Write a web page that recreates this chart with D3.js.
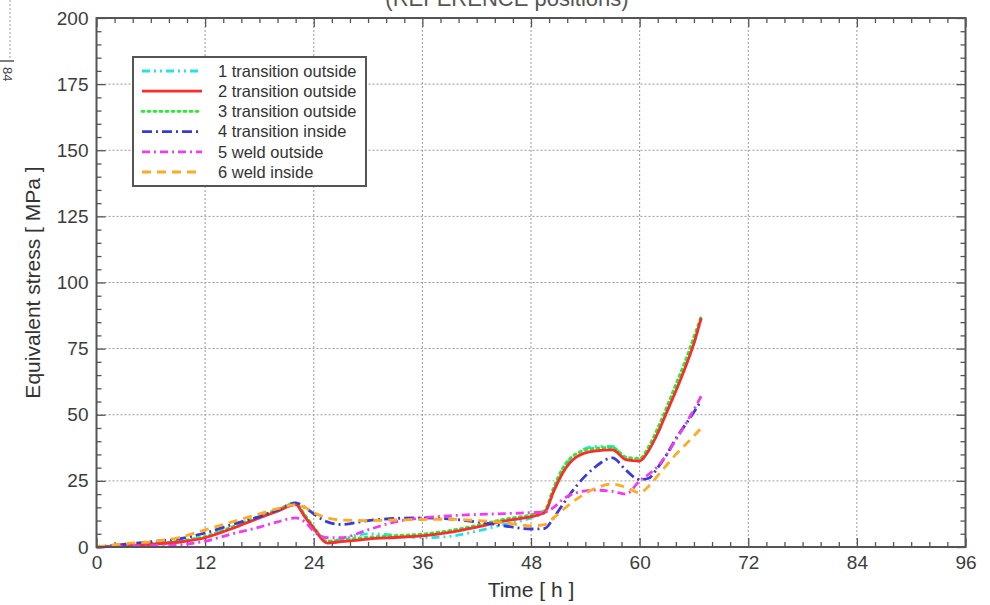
<!DOCTYPE html>
<html><head><meta charset="utf-8">
<script src="https://cdn.jsdelivr.net/npm/d3@7"></script>
<style>
html,body{margin:0;padding:0;background:#fff;}
svg text{font-family:"Liberation Sans",Arial,Helvetica,sans-serif;}
</style></head>
<body>
<svg id="chart" width="990" height="605"></svg>
<script>
// ---------- data ----------
const time = [0, 3, 6, 9, 12, 15, 18, 20, 22, 23, 24, 25.5, 27, 30, 33, 36, 39, 42, 45, 48, 49.5, 50.5, 51.5, 53, 55, 57, 58.5, 60, 61, 62, 63, 64, 65, 66, 66.8];
const s1 = [0, 0.5, 1.2, 2, 4, 7.5, 11.5, 14, 16, 12, 7.5, 2, 3, 5, 4.5, 3.5, 4, 6, 8.5, 11, 13, 21, 29, 35, 38, 38, 33, 32.5, 36.5, 43, 51, 59, 68, 77, 86.5];
const s2 = [0, 0.4, 1, 1.8, 3.5, 7, 11, 13.5, 16, 11.5, 7, 1.5, 2, 3, 3.6, 4.2, 5.5, 7.5, 9.8, 11.5, 13, 21, 28, 34, 36.3, 36.7, 33, 32.5, 36.5, 43, 51, 59, 67.5, 77, 86.5];
const s3 = [0, 0.6, 1.3, 2.2, 4, 7.6, 11.6, 14.1, 16.6, 12.2, 7.6, 2.2, 2.7, 3.7, 4.3, 4.9, 6.2, 8.2, 10.5, 12.2, 13.8, 22.5, 29.8, 35.3, 37.3, 37.6, 34, 33.5, 38, 45, 53, 61.5, 70, 79.5, 87.2];
const s4 = [0, 1, 2, 3, 5.3, 8.5, 11.5, 14, 16.7, 15, 12.5, 9.5, 8.5, 10, 10.8, 11, 10.6, 9.5, 8, 6.8, 7, 11, 16, 23, 30, 33.7, 29, 25.5, 26, 30, 35, 41, 46, 51, 55.5];
const s5 = [0, 0.3, 0.5, 0.8, 2.2, 5, 7.5, 9.5, 11, 9.5, 6, 3.5, 3.5, 6.5, 9.5, 11, 11.8, 12.3, 12.6, 13, 13.2, 15, 18, 20.5, 21.5, 21, 20, 25, 27.5, 30.5, 35, 40.5, 46, 52, 57];
const s6 = [0, 1.2, 2, 3.5, 6.5, 9.5, 12.5, 14.5, 16, 15, 13, 11, 10.2, 10, 10.2, 10.4, 10.5, 10, 9.2, 8, 8.5, 11, 14, 18, 22, 23.8, 22.5, 20.5, 23, 27, 31, 35, 38.5, 42, 45];
const seriesNames = ["1 transition outside", "2 transition outside", "3 transition outside", "4 transition inside", "5 weld outside", "6 weld inside"];
const seriesValues = [s1, s2, s3, s4, s5, s6];
const xTicks = [0, 12, 24, 36, 48, 60, 72, 84, 96];
const yTicks = [0, 25, 50, 75, 100, 125, 150, 175, 200];
const xLabel = "Time [ h ]";
const yLabel = "Equivalent stress [ MPa ]";
const titleText = "(REFERENCE positions)";

// ---------- styles ----------
const colors = ["#22e4e4", "#ff2a2a", "#33e633", "#3a3ad8", "#f03cf0", "#ffaa22"];
const dashes = ["8,4,2,4,2,4", null, "2,4", "10,4,2,4", "8,4,2,4", "9,6"];
const widths = [2.8, 2.8, 2.8, 2.8, 2.8, 2.8];
const drawOrder = [0, 2, 1, 3, 4, 5];

const svg = d3.select("#chart");
const L = 96.5, R = 965.5, T = 18, B = 547;
const x = d3.scaleLinear().domain([0, 96]).range([L, R]);
const y = d3.scaleLinear().domain([0, 200]).range([B, T]);

// top-left fragment of neighbouring figure
svg.append("line").attr("x1", 10).attr("x2", 10).attr("y1", 0).attr("y2", 60)
  .attr("stroke", "#999").attr("stroke-dasharray", "2,2");
svg.append("line").attr("x1", 0).attr("x2", 14).attr("y1", 61).attr("y2", 61)
  .attr("stroke", "#555").attr("stroke-width", 1.5);
svg.append("text").attr("transform", "translate(3,67) rotate(90)")
  .attr("font-size", 13).attr("fill", "#444").text("84");

// title (partly cut off at top, as in the source)
svg.append("text").attr("x", 507).attr("y", 6).attr("text-anchor", "middle")
  .attr("font-size", 22).attr("fill", "#555").text(titleText);

// grid
const grid = svg.append("g");
xTicks.slice(1, -1).forEach(t => grid.append("line").attr("x1", x(t)).attr("x2", x(t)).attr("y1", T).attr("y2", B)
  .attr("stroke", "#9a9a9a").attr("stroke-width", 1).attr("stroke-dasharray", "2,2"));
yTicks.slice(1, -1).forEach(t => grid.append("line").attr("x1", L).attr("x2", R).attr("y1", y(t)).attr("y2", y(t))
  .attr("stroke", "#9a9a9a").attr("stroke-width", 1).attr("stroke-dasharray", "2,2"));

// axes with inward ticks
const minorX = d3.range(0, 97, 2).filter(v => v % 12 !== 0);
const minorY = d3.range(0, 201, 5).filter(v => v % 25 !== 0);
function mkAxis(axisFn, scale, ticks, len, fmt) {
  return axisFn(scale).tickValues(ticks).tickSize(len).tickSizeOuter(0).tickFormat(fmt);
}
const axCol = "#555";
function style(g) {
  g.select(".domain").remove();
  g.selectAll("line").attr("stroke", axCol).attr("stroke-width", 1.3);
  g.selectAll("text").attr("fill", "#3c3c3c").attr("font-size", 19);
}
// bottom
svg.append("g").attr("transform", `translate(0,${B})`).call(mkAxis(d3.axisBottom, x, xTicks, -9, d3.format("d")))
  .call(style).call(g => g.selectAll("text").attr("y", 9).attr("dy", "0.71em"));
svg.append("g").attr("transform", `translate(0,${B})`).call(mkAxis(d3.axisBottom, x, minorX, -5, "")).call(style);
// top
svg.append("g").attr("transform", `translate(0,${T})`).call(mkAxis(d3.axisTop, x, xTicks, -9, "")).call(style);
svg.append("g").attr("transform", `translate(0,${T})`).call(mkAxis(d3.axisTop, x, minorX, -5, "")).call(style);
// left
svg.append("g").attr("transform", `translate(${L},0)`).call(mkAxis(d3.axisLeft, y, yTicks, -9, d3.format("d")))
  .call(style).call(g => g.selectAll("text").attr("x", -8));
svg.append("g").attr("transform", `translate(${L},0)`).call(mkAxis(d3.axisLeft, y, minorY, -5, "")).call(style);
// right
svg.append("g").attr("transform", `translate(${R},0)`).call(mkAxis(d3.axisRight, y, yTicks, -9, "")).call(style);
svg.append("g").attr("transform", `translate(${R},0)`).call(mkAxis(d3.axisRight, y, minorY, -5, "")).call(style);

// series
const line = d3.line().x(d => x(d[0])).y(d => y(d[1])).curve(d3.curveMonotoneX);
svg.append("clipPath").attr("id", "clip").append("rect")
  .attr("x", L).attr("y", T).attr("width", R - L).attr("height", B - T + 2);
const lines = svg.append("g").attr("clip-path", "url(#clip)");
drawOrder.forEach(i => {
  const vals = seriesValues[i];
  lines.append("path").datum(time.map((t, k) => [t, vals[k]]))
    .attr("d", line).attr("fill", "none")
    .attr("stroke", colors[i]).attr("stroke-width", widths[i])
    .attr("stroke-dasharray", dashes[i])
    .attr("stroke-linecap", i === 2 ? "round" : "butt");
});

// frame
svg.append("rect").attr("x", L).attr("y", T).attr("width", R - L).attr("height", B - T)
  .attr("fill", "none").attr("stroke", axCol).attr("stroke-width", 2);

// axis titles
svg.append("text").attr("x", (L + R) / 2).attr("y", 597).attr("text-anchor", "middle")
  .attr("font-size", 21).attr("fill", "#333").text(xLabel);
svg.append("text").attr("transform", `translate(40,${(T + B) / 2}) rotate(-90)`)
  .attr("text-anchor", "middle").attr("font-size", 21).attr("fill", "#333").text(yLabel);

// legend
const lg = svg.append("g");
lg.append("rect").attr("x", 133).attr("y", 57).attr("width", 233).attr("height", 129)
  .attr("fill", "#fff").attr("stroke", "#555").attr("stroke-width", 2);
seriesNames.forEach((name, i) => {
  const yy = 71 + i * 20.2;
  lg.append("line").attr("x1", 142).attr("x2", 202).attr("y1", yy).attr("y2", yy)
    .attr("stroke", colors[i]).attr("stroke-width", 2.8).attr("stroke-dasharray", dashes[i])
    .attr("stroke-linecap", i === 2 ? "round" : "butt");
  lg.append("text").attr("x", 218).attr("y", yy).attr("dy", "0.35em")
    .attr("font-size", 16.5).attr("fill", "#333").text(name);
});
</script>
</body></html>
